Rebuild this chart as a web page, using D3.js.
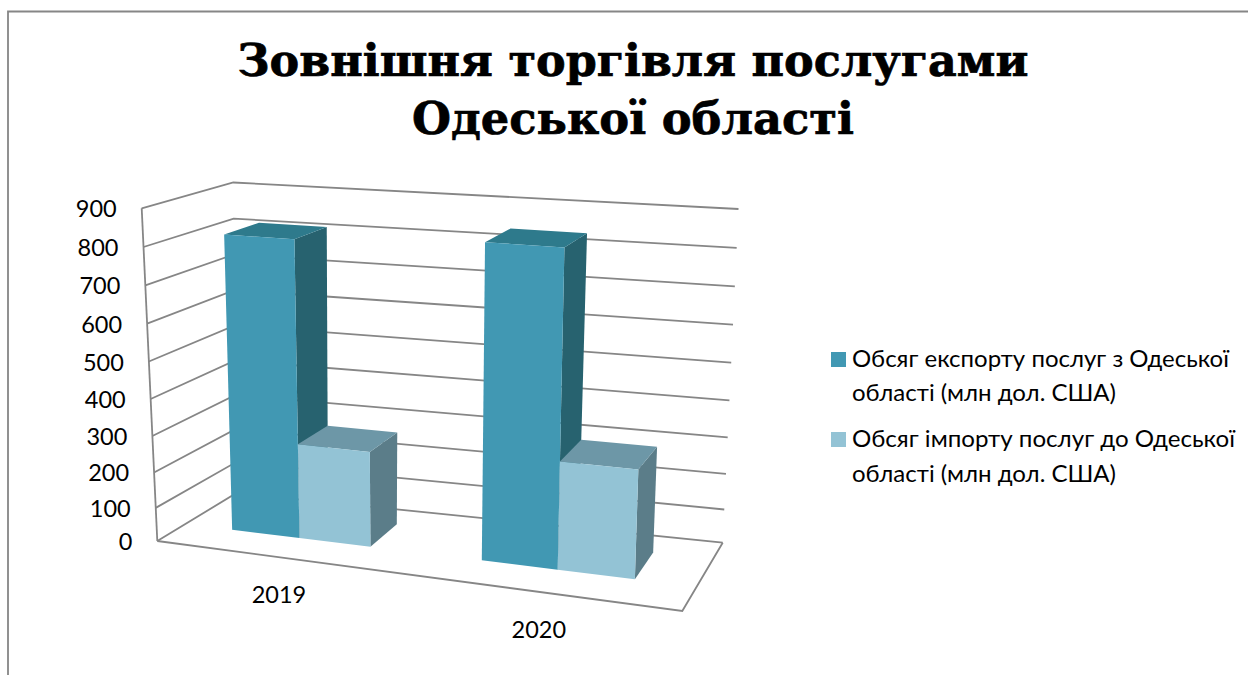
<!DOCTYPE html>
<html><head><meta charset="utf-8">
<script src="https://cdn.jsdelivr.net/npm/d3@7"></script>
<style>html,body{margin:0;padding:0;background:#fff;overflow:hidden}svg{display:block}</style>
</head><body>
<svg id="c" width="1248" height="675"></svg>
<script>
const titleLines = ["Зовнішня торгівля послугами", "Одеської області"];
const categories = ["2019", "2020"];
const seriesNames = ["export", "import"];
const legendLines = [["Обсяг експорту послуг з Одеської", "області (млн дол. США)"],
                     ["Обсяг імпорту послуг до Одеської", "області (млн дол. США)"]];
const exportValues = [815, 840];
const importValues = [270, 297];
const yTicks = [0,100,200,300,400,500,600,700,800,900];
const frontColors = ["#4198B3", "#93C3D5"];
const sideColors = ["#27626F", "#5B7D89"];
const topColors = ["#2E7A8C", "#6D97A7"];
const gridColor = "#868686";

const svg = d3.select("#c");
const mix = (a,b,t)=>[a[0]+(b[0]-a[0])*t, a[1]+(b[1]-a[1])*t];

// plot box corners on the page (floor and ceiling of the 3D box)
const floor = {fl:[157.3,541], fr:[682.3,611], br:[722.7,542.7], bl:[236.5,493]};
const ceil  = {fl:[141.7,208.3], fr:[695.5,245], br:[738.5,209], bl:[233.3,182.5]};
const plane = (p,u,d)=>mix(mix(p.fl,p.fr,u), mix(p.bl,p.br,u), d);

const yScale = d3.scalePow().exponent(1.05).domain([0,900]).range([0,1]);
const perspU = d3.scalePow().exponent(1.09).domain([0,1]).range([0,1]);
const xBand = d3.scaleBand().domain(categories).range([0,1]).paddingInner(0.43).paddingOuter(0.225);
const xSeries = d3.scaleBand().domain(seriesNames).range([0,xBand.bandwidth()]);
const xLabel = d3.scaleLinear().domain([0,1]).range([0.01,0.99]);
const depth = d3.scaleLinear().domain([0,1]).range([0.355,0.76]);

const project = (u,d,v)=>{ const w=perspU(u); return mix(plane(floor,w,d), plane(ceil,w,d), yScale(v)); };
const line = d3.line();
const poly = pts => line(pts)+"Z";

// frame
svg.append("path").attr("d","M8,675V11.5H1248").attr("fill","none").attr("stroke",gridColor).attr("stroke-width",1.8);

// walls
const g = svg.append("g").attr("fill","none").attr("stroke",gridColor).attr("stroke-width",1.8);
yTicks.forEach(v=>{
  g.append("path").attr("d", line([project(0,0,v), project(0,1,v), project(1,1,v)]));
});
g.append("path").attr("d", line([project(0,0,0), project(0,0,900)]));
g.append("path").attr("d", line([project(0,0,0), project(1,0,0), project(1,1,0)]));

// bars
const series = [exportValues, importValues];
const barsG = svg.append("g");
categories.forEach((c,ci)=>{
  seriesNames.forEach((s,si)=>{
    const v = series[si][ci];
    const u0 = xBand(c)+xSeries(s), u1 = u0+xSeries.bandwidth();
    const d0 = depth(0), d1 = depth(1);
    const P = project;
    barsG.append("path").attr("fill",sideColors[si]).attr("d",poly([P(u1,d0,0),P(u1,d1,0),P(u1,d1,v),P(u1,d0,v)]));
    barsG.append("path").attr("fill",topColors[si]).attr("d",poly([P(u0,d0,v),P(u1,d0,v),P(u1,d1,v),P(u0,d1,v)]));
    barsG.append("path").attr("fill",frontColors[si]).attr("d",poly([P(u0,d0,0),P(u1,d0,0),P(u1,d0,v),P(u0,d0,v)]));
  });
});

// y labels
const labelFont = "Lato,'Open Sans',sans-serif";
yTicks.forEach(v=>{
  const p = project(0,0,v);
  svg.append("text").attr("x",p[0]-25).attr("y",p[1]+9).attr("text-anchor","end")
    .attr("font-family",labelFont).attr("font-size",23.5).attr("fill","#000").text(v);
});
// x labels
categories.forEach(c=>{
  const p = project(xLabel(xBand(c)+xBand.bandwidth()/2),0,0);
  svg.append("text").attr("x",p[0]+2).attr("y",p[1]+46).attr("text-anchor","middle")
    .attr("font-family",labelFont).attr("font-size",23.5).attr("fill","#000").text(c);
});

// title
const titleBase=[76,134], titleWidth=[791,442];
titleLines.forEach((t,i)=>{
  svg.append("text").attr("x",633).attr("y",titleBase[i]).attr("text-anchor","middle")
    .attr("textLength",titleWidth[i]).attr("lengthAdjust","spacingAndGlyphs")
    .attr("stroke","#000").attr("stroke-width",0.7)
    .attr("font-family","'DejaVu Serif',serif").attr("font-weight","bold").attr("font-size",45).attr("fill","#000").text(t);
});

// legend
const legendY=[[367,401],[447,482]], swatchY=[352,432], legendWidth=[[377,264],[383,264]];
legendLines.forEach((ls,i)=>{
  svg.append("rect").attr("x",831).attr("y",swatchY[i]).attr("width",15).attr("height",15).attr("fill",frontColors[i]);
  ls.forEach((t,j)=>{
    svg.append("text").attr("x",852).attr("y",legendY[i][j]).attr("font-family",labelFont)
      .attr("textLength",legendWidth[i][j]).attr("lengthAdjust","spacingAndGlyphs")
      .attr("font-size",23.5).attr("fill","#000").text(t);
  });
});
</script>
</body></html>
